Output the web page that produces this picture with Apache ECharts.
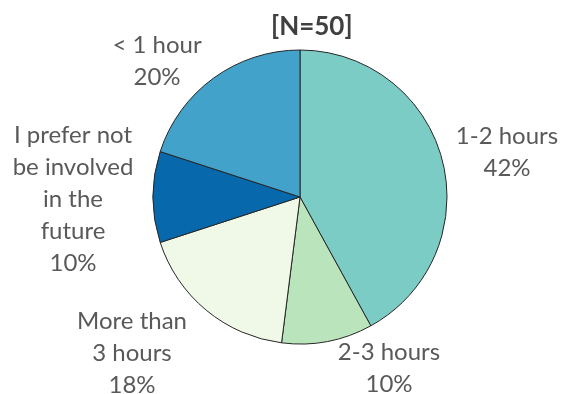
<!DOCTYPE html>
<html>
<head>
<meta charset="utf-8">
<script src="https://cdn.jsdelivr.net/npm/echarts@6/dist/echarts.min.js"></script>
<style>
  html, body { margin: 0; padding: 0; background: #ffffff; }
  #chart { width: 563px; height: 394px; }
</style>
</head>
<body>
<div id="chart"></div>
<script>
// Time categories and share of respondents (%)
const categories = ['1-2 hours', '2-3 hours', 'More than\n3 hours', 'I prefer not\nbe involved\nin the\nfuture', '< 1 hour'];
const shares = [42, 10, 18, 10, 20];
const sliceColors = ['#7BCCC4', '#BAE4BC', '#F0F9E8', '#0868AC', '#43A2CA'];

// Where each label block is centred (page pixels)
const labelAnchors = [[507, 152], [389, 368], [132, 353], [73, 199], [157, 61]];

const chart = echarts.init(document.getElementById('chart'), null, { renderer: 'canvas' });

chart.setOption({
  animation: false,
  title: {
    text: '[N=50]',
    left: 266,
    top: 9,
    textStyle: { fontFamily: 'Lato', fontSize: 26, fontWeight: 'bold', color: '#404040' }
  },
  series: [{
    type: 'pie',
    center: [300, 197],
    radius: 147,
    startAngle: 90,
    clockwise: true,
    data: categories.map((name, i) => ({
      name: name,
      value: shares[i],
      itemStyle: { color: sliceColors[i] }
    })),
    itemStyle: { borderColor: '#262626', borderWidth: 1 },
    label: {
      show: true,
      position: 'outside',
      overflow: 'none',
      formatter: p => p.name + '\n' + p.value + '%',
      fontFamily: 'Lato',
      fontSize: 24,
      lineHeight: 32,
      color: '#595959',
      align: 'center'
    },
    labelLine: { show: false },
    labelLayout: params => {
      const a = labelAnchors[params.dataIndex];
      return { x: a[0], y: a[1], align: 'center', verticalAlign: 'middle' };
    }
  }]
});
</script>
</body>
</html>
